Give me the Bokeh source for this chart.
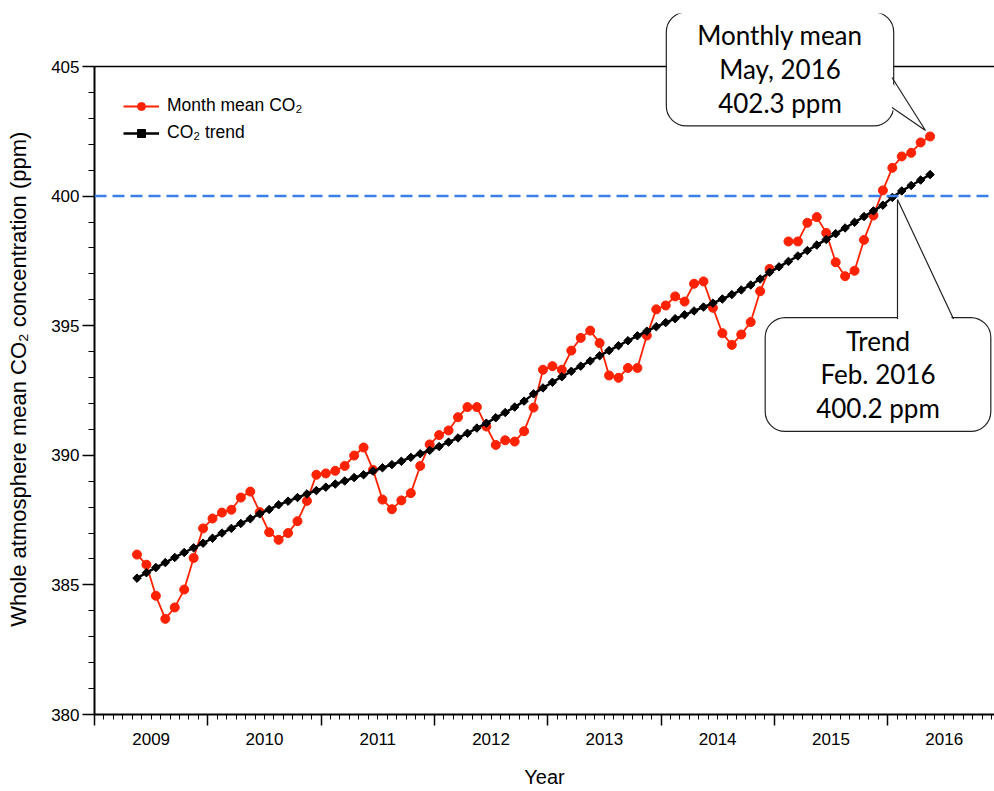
import numpy as np
from bokeh.plotting import figure
from bokeh.models import (Range1d, LinearAxis, FixedTicker, Span, Label, Legend,
                          LegendItem, ColumnDataSource, CustomLabelingPolicy)
from bokeh.embed import file_html
from bokeh.resources import INLINE

# ---------------- data ----------------
first_year = 2009
first_month = 5  # May 2009

monthly_co2 = [
    386.17, 385.78, 384.58, 383.69, 384.13, 384.82, 386.04, 387.18,                  # 2009 May-Dec
    387.56, 387.79, 387.90, 388.37, 388.60, 387.81, 387.03, 386.74, 387.00, 387.46, 388.24, 389.25,  # 2010
    389.30, 389.40, 389.59, 389.99, 390.30, 389.44, 388.29, 387.92, 388.26, 388.54, 389.59, 390.42,  # 2011
    390.78, 390.96, 391.47, 391.86, 391.86, 391.11, 390.40, 390.58, 390.53, 390.93, 391.84, 393.30,  # 2012
    393.44, 393.30, 394.04, 394.53, 394.81, 394.33, 393.08, 392.99, 393.37, 393.37, 394.62, 395.63,  # 2013
    395.78, 396.13, 395.93, 396.62, 396.71, 395.69, 394.71, 394.26, 394.66, 395.14, 396.33, 397.19,  # 2014
    None,   398.25, 398.25, 398.97, 399.19, 398.58, 397.45, 396.91, 397.12, 398.31, 399.25, 400.22,  # 2015
    401.09, 401.53, 401.67, 402.07, 402.30,                                          # 2016 Jan-May
]

trend_co2 = [
    385.26, 385.47, 385.67, 385.86, 386.06, 386.25, 386.43, 386.61,                  # 2009 May-Dec
    386.80, 387.00, 387.18, 387.37, 387.55, 387.74, 387.91, 388.09, 388.23, 388.37, 388.51, 388.64,  # 2010
    388.77, 388.89, 389.01, 389.14, 389.25, 389.39, 389.52, 389.64, 389.77, 389.92, 390.06, 390.19,  # 2011
    390.34, 390.51, 390.67, 390.85, 391.05, 391.24, 391.45, 391.65, 391.86, 392.09, 392.37, 392.60,  # 2012
    392.82, 393.03, 393.24, 393.44, 393.64, 393.84, 394.04, 394.23, 394.42, 394.61, 394.79, 394.96,  # 2013
    395.12, 395.27, 395.42, 395.57, 395.72, 395.87, 396.03, 396.20, 396.38, 396.57, 396.80, 397.06,  # 2014
    397.27, 397.48, 397.69, 397.90, 398.11, 398.33, 398.55, 398.77, 398.99, 399.21, 399.43, 399.65,  # 2015
    399.95, 400.20, 400.41, 400.62, 400.83,                                          # 2016 Jan-May
]

year_labels = [2009, 2010, 2011, 2012, 2013, 2014, 2015, 2016]
y_ticks = [380, 385, 390, 395, 400, 405]
threshold_ppm = 400

# ---------------- derived positions ----------------
n = len(monthly_co2)
month_index = [(first_month - 1) + k for k in range(n)]
dec_year = [first_year + (m + 0.5) / 12.0 for m in month_index]

src = ColumnDataSource(dict(
    x=dec_year,
    co2=np.array([np.nan if v is None else v for v in monthly_co2], dtype=float),
    trend=np.array(trend_co2, dtype=float),
))

RED = "#ff2200"
LEFT, TOP = 94, 13             # frame position on the page (px)
AXIS_TOP_PX = 66               # page y of the 405 line
FRAME_W = 900
PX_PER_YEAR = 113.3
PX_PER_PPM = 25.92
Y0, Y1 = y_ticks[0], y_ticks[-1]
FRAME_H = int(round((Y1 - Y0) * PX_PER_PPM)) + (AXIS_TOP_PX - TOP)
X0 = year_labels[0]
X1 = X0 + FRAME_W / PX_PER_YEAR
YTOP = Y1 + (AXIS_TOP_PX - TOP) / PX_PER_PPM

# page-pixel -> data helpers used only to place the callout annotations
def px2x(px):
    return X0 + (px - LEFT) / PX_PER_YEAR

def py2y(py):
    return Y1 - (py - AXIS_TOP_PX) / PX_PER_PPM

p = figure(frame_width=FRAME_W, frame_height=FRAME_H,
           x_range=Range1d(X0, X1), y_range=Range1d(Y0, YTOP),
           x_axis_type=None, y_axis_type=None,
           output_backend="svg", toolbar_location=None,
           min_border_left=LEFT, min_border_right=0, min_border_top=TOP, min_border_bottom=0)
p.outline_line_color = None
p.background_fill_color = "white"

TICK_FONT = "Liberation Sans"

# bottom axis: line + year/month ticks (no labels)
year_bounds = year_labels + [year_labels[-1] + 1]
month_bounds = [y + m / 12.0 for y in year_labels for m in range(1, 12)]
xa1 = LinearAxis(ticker=FixedTicker(ticks=year_bounds, minor_ticks=month_bounds),
                 major_tick_out=11, major_tick_in=0, minor_tick_out=5, minor_tick_in=0,
                 major_label_text_font_size="1px", major_label_standoff=0,
                 major_label_policy=CustomLabelingPolicy(
                     code="for (const i of indices) { indices.unset(i) }\nreturn indices"),
                 axis_line_width=2, major_tick_line_width=1.5, minor_tick_line_width=1)
# bottom axis: year labels centred in each year
mid_years = [y + 0.5 for y in year_labels]
xa2 = LinearAxis(ticker=FixedTicker(ticks=mid_years, minor_ticks=[]),
                 major_label_overrides={m: str(y) for m, y in zip(mid_years, year_labels)},
                 axis_line_color=None, major_tick_line_color=None, minor_tick_line_color=None,
                 major_tick_out=0, major_tick_in=0, minor_tick_out=0, minor_tick_in=0,
                 major_label_standoff=3,
                 major_label_text_font=TICK_FONT, major_label_text_font_size="17px",
                 major_label_text_color="black",
                 axis_label="Year", axis_label_standoff=18,
                 axis_label_text_font=TICK_FONT, axis_label_text_font_size="20px",
                 axis_label_text_font_style="normal", axis_label_text_color="black")
p.add_layout(xa1, "below")
p.add_layout(xa2, "below")

# y-axis title; trailing no-break spaces keep it centred on the 380-405 span
y_title = "Whole atmosphere mean CO\u2082 concentration (ppm)" + "\u00a0" * 5
ya = LinearAxis(ticker=FixedTicker(ticks=y_ticks, minor_ticks=list(range(Y0, Y1 + 1))),
                bounds=(Y0, Y1),
                major_tick_out=12, major_tick_in=0, minor_tick_out=6, minor_tick_in=0,
                axis_line_width=2, major_tick_line_width=1.5, minor_tick_line_width=1,
                major_label_standoff=3,
                major_label_text_font=TICK_FONT, major_label_text_font_size="17px",
                major_label_text_color="black",
                axis_label=y_title,
                axis_label_standoff=17,
                axis_label_text_font=TICK_FONT, axis_label_text_font_size="22px",
                axis_label_text_font_style="normal", axis_label_text_color="black")
p.add_layout(ya, "left")

# top border line at 405 and the 400 ppm reference line
p.add_layout(Span(location=Y1, dimension="width", line_color="black", line_width=1.5))
p.add_layout(Span(location=threshold_ppm, dimension="width", line_color="#3c7fe8",
                  line_width=2.5, line_dash="12 6"))

r_line = p.line("x", "co2", source=src, line_color=RED, line_width=1.8)
r_pts = p.scatter("x", "co2", source=src, marker="circle", size=9,
                  fill_color=RED, line_color=RED)
t_line = p.line("x", "trend", source=src, line_color="black", line_width=2.5)
t_pts = p.scatter("x", "trend", source=src, marker="square", angle=np.pi / 4, size=6,
                  fill_color="black", line_color="black")

legend = Legend(items=[LegendItem(label="Month mean CO\u2082", renderers=[r_line, r_pts]),
                       LegendItem(label="CO\u2082 trend", renderers=[t_line, t_pts])],
                location=(29, FRAME_H - (87 - TOP) - 56), margin=0, padding=5, spacing=6,
                glyph_width=36, glyph_height=20, label_height=20, label_standoff=8,
                label_text_font=TICK_FONT, label_text_font_size="17.5px",
                label_text_color="black",
                border_line_color=None, background_fill_alpha=0)
p.add_layout(legend)

# ---------------- callouts ----------------
CALLOUT_FONT = "Lato"
last_val = monthly_co2[-1]
feb2016_trend = trend_co2[month_index.index(12 * (2016 - first_year) + 1)]

box1 = Label(x=px2x(779.5), y=py2y(68.5), text=f"Monthly mean\nMay, 2016\n{last_val:.1f} ppm",
             text_align="center", text_baseline="middle",
             text_font=CALLOUT_FONT, text_font_size="26px", text_line_height=1.06,
             text_color="black",
             background_fill_color="white", border_line_color="#222222", border_line_width=1.2,
             border_radius=20, padding=dict(x=31, y=7))
box2 = Label(x=px2x(877.5), y=py2y(374), text=f"Trend\nFeb. 2016\n{feb2016_trend:.1f} ppm",
             text_align="center", text_baseline="middle",
             text_font=CALLOUT_FONT, text_font_size="26px", text_line_height=1.06,
             text_color="black",
             background_fill_color="white", border_line_color="#222222", border_line_width=1.2,
             border_radius=20, padding=dict(x=51, y=7))
p.add_layout(box1)
p.add_layout(box2)

# pointer tails of the callouts
t1_top = (px2x(891.5), py2y(77))
t1_tip = (px2x(925), py2y(130))
t1_bot = (px2x(891.5), py2y(107))
p.patch([px2x(888), t1_tip[0], px2x(888)], [t1_top[1], t1_tip[1], t1_bot[1]],
        fill_color="white", line_color=None, level="overlay")
p.line([t1_top[0], t1_tip[0], t1_bot[0]], [t1_top[1], t1_tip[1], t1_bot[1]],
       line_color="#222222", line_width=1.2, level="overlay")

t2_left = (px2x(897), py2y(318.5))
t2_tip = (px2x(897), py2y(199))
t2_right = (px2x(953), py2y(318.5))
p.patch([t2_left[0], t2_tip[0], t2_right[0]], [py2y(321.5), t2_tip[1], py2y(321.5)],
        fill_color="white", line_color=None, level="overlay")
p.line([t2_left[0], t2_tip[0], t2_right[0]], [t2_left[1], t2_tip[1], t2_right[1]],
       line_color="#222222", line_width=1.2, level="overlay")

open("out.html", "w").write(file_html(p, INLINE))
